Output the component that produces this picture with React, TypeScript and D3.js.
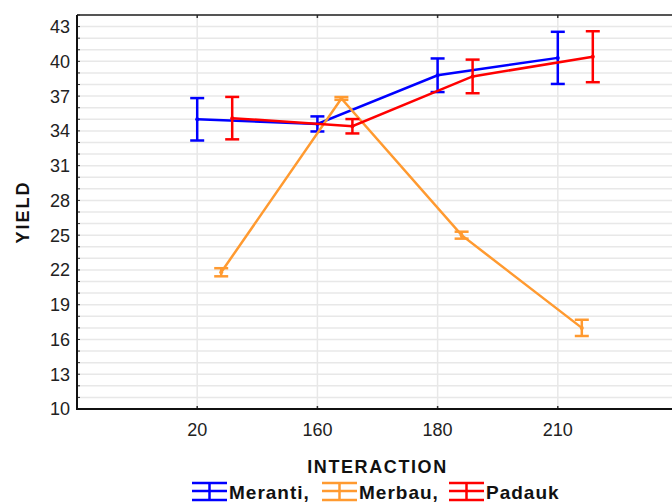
import React, { useEffect, useRef } from 'react';
import * as d3 from 'd3';

// Chart data
const categories = ['20', '160', '180', '210'];
const seriesNames = ['Meranti,', 'Merbau,', 'Padauk'];
const merantiMean = [35.0, 34.6, 38.8, 40.3];
const merantiErr = [1.83, 0.65, 1.45, 2.25];
const merbauMean = [21.8, 36.8, 25.0, 17.0];
const merbauErr = [0.35, 0.12, 0.3, 0.7];
const padaukMean = [35.1, 34.4, 38.7, 40.4];
const padaukErr = [1.83, 0.62, 1.45, 2.2];
const yTicks = [10, 13, 16, 19, 22, 25, 28, 31, 34, 37, 40, 43];

const App: React.FC = () => {
  const ref = useRef<SVGSVGElement>(null);

  useEffect(() => {
    if (!ref.current) return;
    const svg = d3.select(ref.current);
    svg.selectAll('*').remove();

    const left = 77;
    const right = 678;
    const top = 15;
    const bottom = 409;
    const font = 'Liberation Sans, Arial, sans-serif';
    const colors = ['#0000ff', '#ff9a30', '#ff0000'];
    const offsets = [0, 24, 35];

    const x = d3.scalePoint<string>().domain(categories).range([left, right]).padding(1);
    const y = d3.scaleLinear().domain([10, 44]).range([bottom, top]);

    const g = svg.append('g');

    // clip for the plot region
    svg.append('defs').append('clipPath').attr('id', 'plotclip')
      .append('rect').attr('x', left).attr('y', top).attr('width', right - left).attr('height', bottom - top);

    // gridlines
    g.selectAll('.hgrid')
      .data(d3.range(11, 45))
      .enter()
      .append('line')
        .attr('x1', left)
        .attr('x2', right)
        .attr('y1', d => y(d))
        .attr('y2', d => y(d))
        .attr('stroke', '#e8e8e8')
        .attr('stroke-width', 1.5);

    g.selectAll('.vgrid')
      .data(categories)
      .enter()
      .append('line')
        .attr('x1', d => x(d)!)
        .attr('x2', d => x(d)!)
        .attr('y1', top)
        .attr('y2', bottom)
        .attr('stroke', '#e8e8e8')
        .attr('stroke-width', 1.5);

    // minor ticks on y axis
    g.selectAll('.minor')
      .data(d3.range(10, 45))
      .enter()
      .append('line')
        .attr('x1', left)
        .attr('x2', left + 3)
        .attr('y1', d => y(d))
        .attr('y2', d => y(d))
        .attr('stroke', '#333')
        .attr('stroke-width', 1);

    // ticks on top and bottom frame
    categories.forEach(c => {
      g.append('line').attr('x1', x(c)!).attr('x2', x(c)!).attr('y1', top).attr('y2', top + 3)
        .attr('stroke', '#333').attr('stroke-width', 1.5);
      g.append('line').attr('x1', x(c)!).attr('x2', x(c)!).attr('y1', bottom).attr('y2', bottom - 3)
        .attr('stroke', '#333').attr('stroke-width', 1.5);
    });

    // frame
    g.append('line').attr('x1', left).attr('x2', right).attr('y1', top).attr('y2', top)
      .attr('stroke', '#222').attr('stroke-width', 1.5);
    g.append('line').attr('x1', left).attr('x2', left).attr('y1', top).attr('y2', bottom + 1)
      .attr('stroke', '#111').attr('stroke-width', 2);
    g.append('line').attr('x1', left - 1).attr('x2', right).attr('y1', bottom).attr('y2', bottom)
      .attr('stroke', '#111').attr('stroke-width', 2);

    // y axis labels
    g.selectAll('.ylab')
      .data(yTicks)
      .enter()
      .append('text')
        .attr('x', left - 7)
        .attr('y', d => y(d))
        .attr('dy', '0.36em')
        .attr('text-anchor', 'end')
        .attr('font-family', font)
        .attr('font-size', '18px')
        .attr('fill', '#222')
        .text(d => d);

    // x axis labels
    g.selectAll('.xlab')
      .data(categories)
      .enter()
      .append('text')
        .attr('x', d => x(d)!)
        .attr('y', bottom + 27)
        .attr('text-anchor', 'middle')
        .attr('font-family', font)
        .attr('font-size', '18px')
        .attr('fill', '#222')
        .text(d => d);

    // series
    const series = [
      { mean: merantiMean, err: merantiErr },
      { mean: merbauMean, err: merbauErr },
      { mean: padaukMean, err: padaukErr },
    ];

    const plot = g.append('g').attr('clip-path', 'url(#plotclip)');
    series.forEach((s, si) => {
      const pts = categories.map((c, i) => ({ x: x(c)! + offsets[si], m: s.mean[i], e: s.err[i] }));
      const line = d3.line<any>().x(d => d.x).y(d => y(d.m));
      plot.append('path')
        .datum(pts)
        .attr('fill', 'none')
        .attr('stroke', colors[si])
        .attr('stroke-width', 2.5)
        .attr('d', line);

      const eb = plot.selectAll(`.eb${si}`)
        .data(pts)
        .enter()
        .append('g');
      eb.append('line')
        .attr('x1', d => d.x).attr('x2', d => d.x)
        .attr('y1', d => y(d.m - d.e)).attr('y2', d => y(d.m + d.e))
        .attr('stroke', colors[si]).attr('stroke-width', 2.5);
      eb.append('line')
        .attr('x1', d => d.x - 7).attr('x2', d => d.x + 7)
        .attr('y1', d => y(d.m + d.e)).attr('y2', d => y(d.m + d.e))
        .attr('stroke', colors[si]).attr('stroke-width', 2.5);
      eb.append('line')
        .attr('x1', d => d.x - 7).attr('x2', d => d.x + 7)
        .attr('y1', d => y(d.m - d.e)).attr('y2', d => y(d.m - d.e))
        .attr('stroke', colors[si]).attr('stroke-width', 2.5);
      eb.append('circle')
        .attr('cx', d => d.x).attr('cy', d => y(d.m)).attr('r', 2)
        .attr('fill', colors[si]);
    });

    // axis titles
    svg.append('text')
      .attr('transform', `translate(29, ${(top + bottom) / 2}) rotate(-90)`)
      .attr('text-anchor', 'middle')
      .attr('font-family', font)
      .attr('font-weight', 'bold')
      .attr('font-size', '18px')
      .attr('letter-spacing', '2px')
      .attr('fill', '#111')
      .text('YIELD');

    svg.append('text')
      .attr('x', (left + right) / 2)
      .attr('y', 473)
      .attr('text-anchor', 'middle')
      .attr('font-family', font)
      .attr('font-weight', 'bold')
      .attr('font-size', '18px')
      .attr('letter-spacing', '1.6px')
      .attr('fill', '#111')
      .text('INTERACTION');

    // legend
    const legendX = [192, 322, 449];
    seriesNames.forEach((name, i) => {
      const lg = svg.append('g').attr('transform', `translate(${legendX[i]}, 491)`);
      lg.append('line').attr('x1', 0).attr('x2', 35).attr('y1', -8).attr('y2', -8)
        .attr('stroke', colors[i]).attr('stroke-width', 2.5);
      lg.append('line').attr('x1', 0).attr('x2', 35).attr('y1', 0).attr('y2', 0)
        .attr('stroke', colors[i]).attr('stroke-width', 2.5);
      lg.append('line').attr('x1', 0).attr('x2', 35).attr('y1', 9).attr('y2', 9)
        .attr('stroke', colors[i]).attr('stroke-width', 2.5);
      lg.append('line').attr('x1', 17.5).attr('x2', 17.5).attr('y1', -8).attr('y2', 9)
        .attr('stroke', colors[i]).attr('stroke-width', 2.5);
      lg.append('text')
        .attr('x', 37)
        .attr('y', 8)
        .attr('font-family', font)
        .attr('font-weight', 'bold')
        .attr('font-size', '19px')
        .attr('letter-spacing', '1px')
        .attr('fill', '#111')
        .text(name);
    });
  }, []);

  return (
    <svg
      ref={ref}
      width={672}
      height={504}
      style={{ position: 'absolute', left: 0, top: 0, background: '#fff', display: 'block' }}
    />
  );
};

export default App;
